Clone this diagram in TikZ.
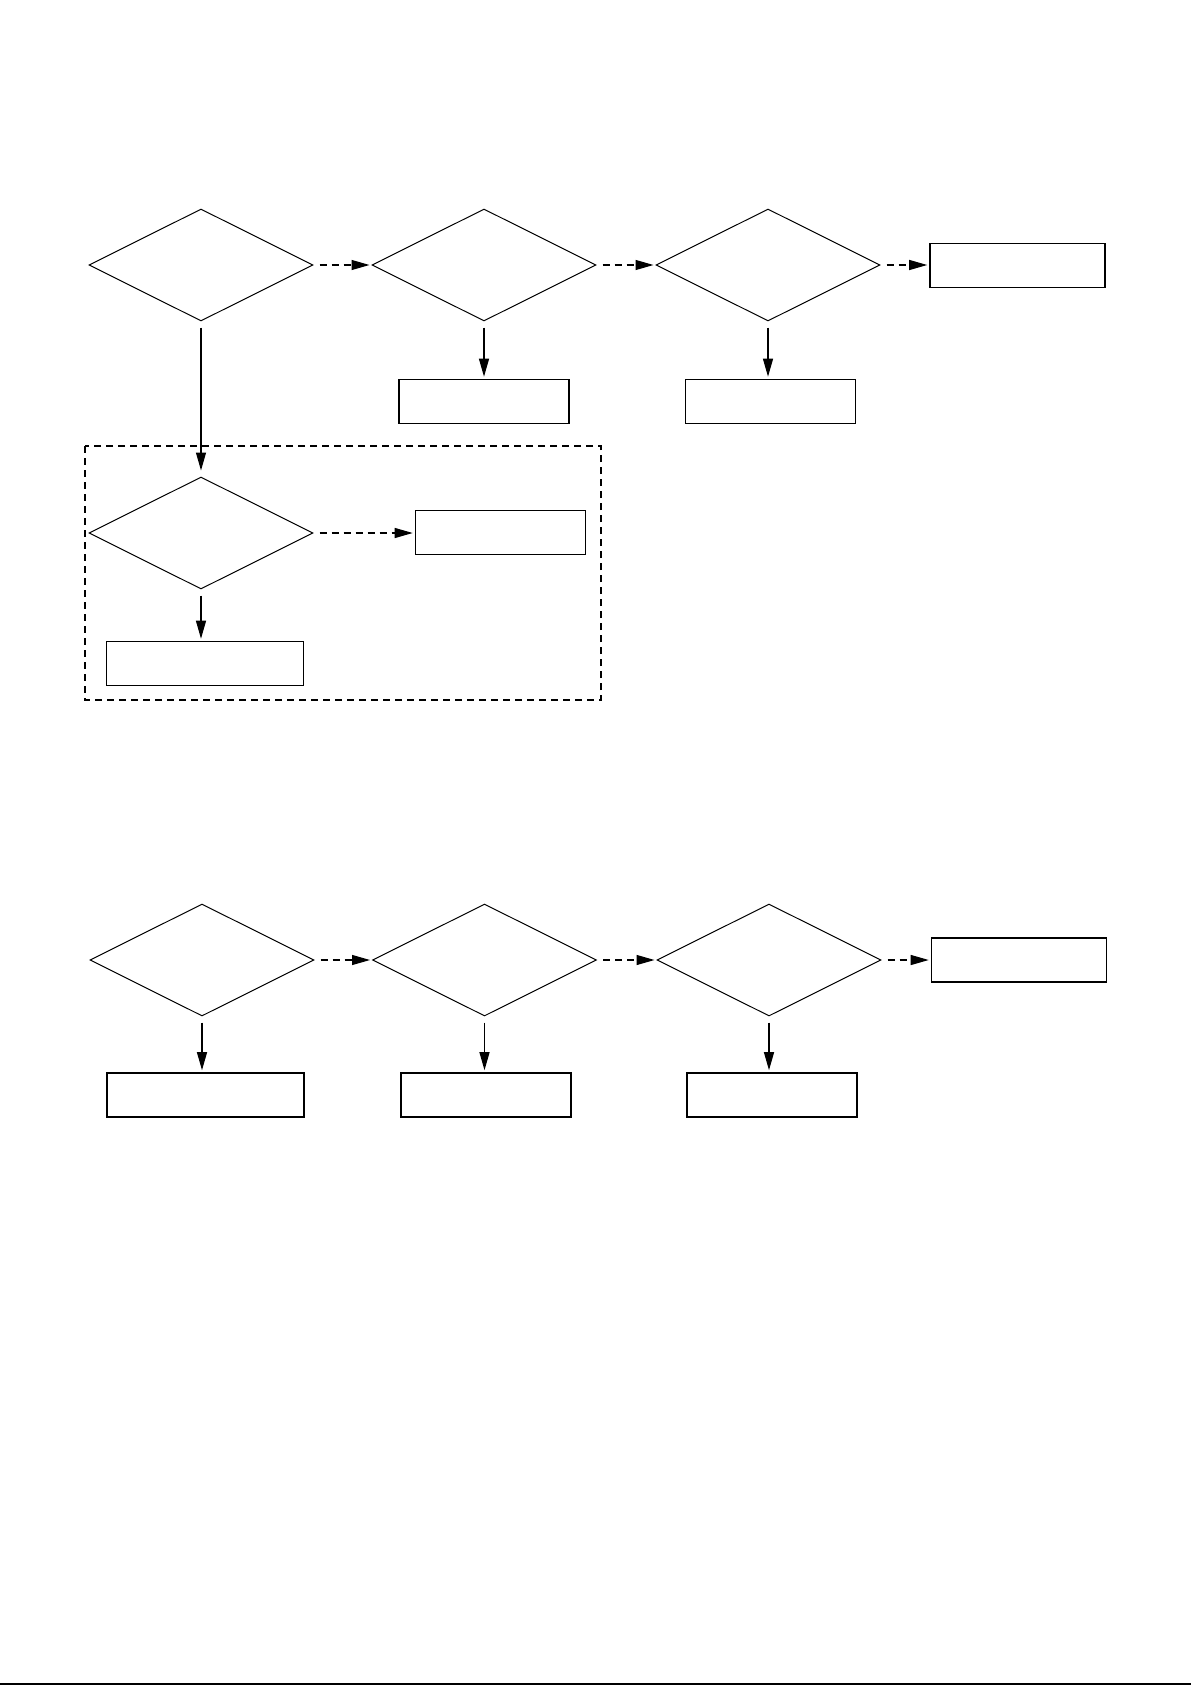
\documentclass[tikz,border=0pt]{standalone}
\usetikzlibrary{shapes.geometric,arrows.meta}
\begin{document}
\begin{tikzpicture}[x=.5pt,y=-.5pt,
  scelta/.style={draw,diamond,minimum width=112pt,minimum height=56pt,inner sep=0pt,line width=.5pt},
  blocco/.style={draw,rectangle,minimum height=22pt,inner sep=0pt,line width=.8pt},
  freccia/.style={-{Triangle[length=9pt,width=5pt]},line width=.6pt,shorten <=3pt,shorten >=1pt},
  tratto/.style={dash pattern=on 3.5pt off 2.5pt}]

\useasboundingbox (0,0) rectangle (1191,1685);

% prima parte
\node[scelta] (d1) at (201,265) {};
\node[scelta] (d2) at (484,265) {};
\node[scelta] (d3) at (768,265) {};
\node[blocco,minimum width=87.5pt] (b1) at (1017.5,265.5) {};
\node[blocco,minimum width=85pt] (b2) at (484,401.5) {};
\node[blocco,minimum width=85pt] (b3) at (770.5,401.5) {};

\draw[tratto,line width=.6pt] (85,446) rectangle (601,700); % riquadro
\node[scelta] (d4) at (201,533) {};
\node[blocco,minimum width=85pt] (b4) at (500.5,532.5) {};
\node[blocco,minimum width=98.5pt] (b5) at (205,663.5) {};

\draw[freccia,tratto] (d1.east) -- (d2.west);
\draw[freccia,tratto] (d2.east) -- (d3.west);
\draw[freccia,tratto] (d3.east) -- (d3.east -| b1.west);
\draw[freccia] (d2.south) -- (d2.south |- b2.north);
\draw[freccia] (d3.south) -- (d3.south |- b3.north);
\draw[freccia,shorten >=3pt] (d1.south) -- (d4.north); % discesa
\draw[freccia,tratto] (d4.east) -- (d4.east -| b4.west);
\draw[freccia] (d4.south) -- (d4.south |- b5.north);

% seconda parte
\node[scelta] (d5) at (202,960) {};
\node[scelta] (d6) at (484.5,960) {};
\node[scelta] (d7) at (769,960) {};
\node[blocco,minimum width=87.5pt] (b6) at (1019,960) {};
\node[blocco,minimum width=98.5pt] (b7) at (205.5,1095) {};
\node[blocco,minimum width=85pt] (b8) at (486,1095) {};
\node[blocco,minimum width=85pt] (b9) at (772,1095) {};

\draw[freccia,tratto] (d5.east) -- (d6.west);
\draw[freccia,tratto] (d6.east) -- (d7.west);
\draw[freccia,tratto] (d7.east) -- (b6.west);
\draw[freccia] (d5.south) -- (d5.south |- b7.north);
\draw[freccia] (d6.south) -- (d6.south |- b8.north);
\draw[freccia] (d7.south) -- (d7.south |- b9.north);

\draw[line width=1pt] (0,1684) -- (1191,1684); % bordo

\end{tikzpicture}
\end{document}
